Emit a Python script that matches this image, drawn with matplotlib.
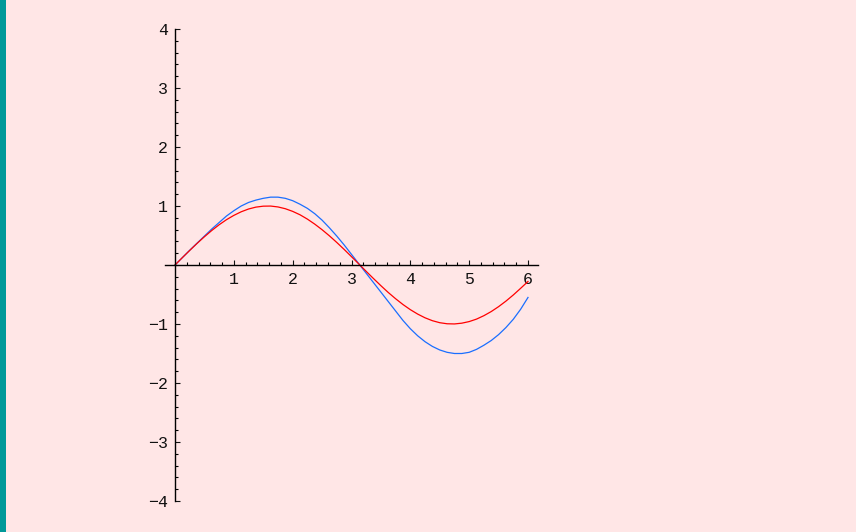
import matplotlib.pyplot as plt
from matplotlib.ticker import FixedLocator, MultipleLocator
from matplotlib.patches import Rectangle

# values
x_vals = [0, 0.125, 0.25, 0.375, 0.5, 0.625, 0.75, 0.875, 1.0, 1.125, 1.25, 1.375,
          1.5, 1.625, 1.75, 1.875, 2.0, 2.125, 2.25, 2.375, 2.5, 2.625, 2.75, 2.875,
          3.0, 3.125, 3.25, 3.375, 3.5, 3.625, 3.75, 3.875, 4.0, 4.125, 4.25, 4.375,
          4.5, 4.625, 4.75, 4.875, 5.0, 5.125, 5.25, 5.375, 5.5, 5.625, 5.75, 5.875, 6.0]
red_vals = [0, 0.125, 0.247, 0.366, 0.479, 0.585, 0.682, 0.768, 0.841, 0.902, 0.949, 0.981,
            0.997, 0.999, 0.984, 0.954, 0.909, 0.851, 0.778, 0.693, 0.598, 0.494, 0.382, 0.264,
            0.141, 0.017, -0.108, -0.231, -0.351, -0.466, -0.572, -0.670, -0.757, -0.832, -0.895, -0.944,
            -0.978, -0.996, -0.999, -0.986, -0.959, -0.917, -0.859, -0.789, -0.706, -0.612, -0.508, -0.395, -0.279]
blue_vals = [0, 0.125, 0.25, 0.37, 0.49, 0.61, 0.72, 0.83, 0.92, 1.00, 1.06, 1.10,
             1.13, 1.15, 1.15, 1.13, 1.09, 1.03, 0.96, 0.87, 0.76, 0.63, 0.49, 0.34,
             0.18, 0.02, -0.14, -0.30, -0.46, -0.62, -0.78, -0.94, -1.08, -1.20, -1.30, -1.38,
             -1.44, -1.48, -1.50, -1.50, -1.48, -1.43, -1.36, -1.28, -1.18, -1.06, -0.92, -0.75, -0.55]
x_ticks = [1, 2, 3, 4, 5, 6]
y_ticks = [-4, -3, -2, -1, 1, 2, 3, 4]

bg = '#ffe6e6'
W, H = 856, 532

fig = plt.figure(figsize=(W / 100, H / 100), dpi=100, facecolor=bg)
fig.patches.append(Rectangle((0, 0), 6 / W, 1, transform=fig.transFigure,
                             facecolor='#009999', edgecolor='none'))

# axes box: x from -0.17 to 6.17, y from -4 to 4 (about 59 px per unit)
ax = fig.add_axes([165 / W, 31 / H, (538 - 165) / W, 472 / H])
ax.set_facecolor('none')
ax.set_xlim(-0.17, 6.17)
ax.set_ylim(-4, 4)

ax.plot(x_vals, blue_vals, color='#1a6eff', lw=0.9)
ax.plot(x_vals, red_vals, color='#ff0000', lw=0.9)

for s in ['top', 'right']:
    ax.spines[s].set_visible(False)
ax.spines['bottom'].set_position(('data', 0))
ax.spines['left'].set_position(('data', 0))
for s in ['bottom', 'left']:
    ax.spines[s].set_linewidth(1.0)
    ax.spines[s].set_color('black')

ax.xaxis.set_major_locator(FixedLocator(x_ticks))
ax.yaxis.set_major_locator(FixedLocator(y_ticks))
ax.xaxis.set_minor_locator(FixedLocator([i * 0.2 for i in range(1, 31)]))
ax.yaxis.set_minor_locator(MultipleLocator(0.2))
ax.set_xticklabels([str(t) for t in x_ticks])
ax.set_yticklabels([str(t).replace('-', '\u2212') for t in y_ticks])

ax.tick_params(which='major', direction='in', length=3.5, width=0.8,
               labelsize=12, colors='#111111')
ax.tick_params(which='minor', direction='in', length=2, width=0.8)
ax.tick_params(axis='x', which='major', pad=5)
ax.tick_params(axis='y', which='major', pad=5)
for lab in ax.get_xticklabels() + ax.get_yticklabels():
    lab.set_family('Liberation Mono')

fig.savefig('out.png', dpi=100, facecolor=bg)
